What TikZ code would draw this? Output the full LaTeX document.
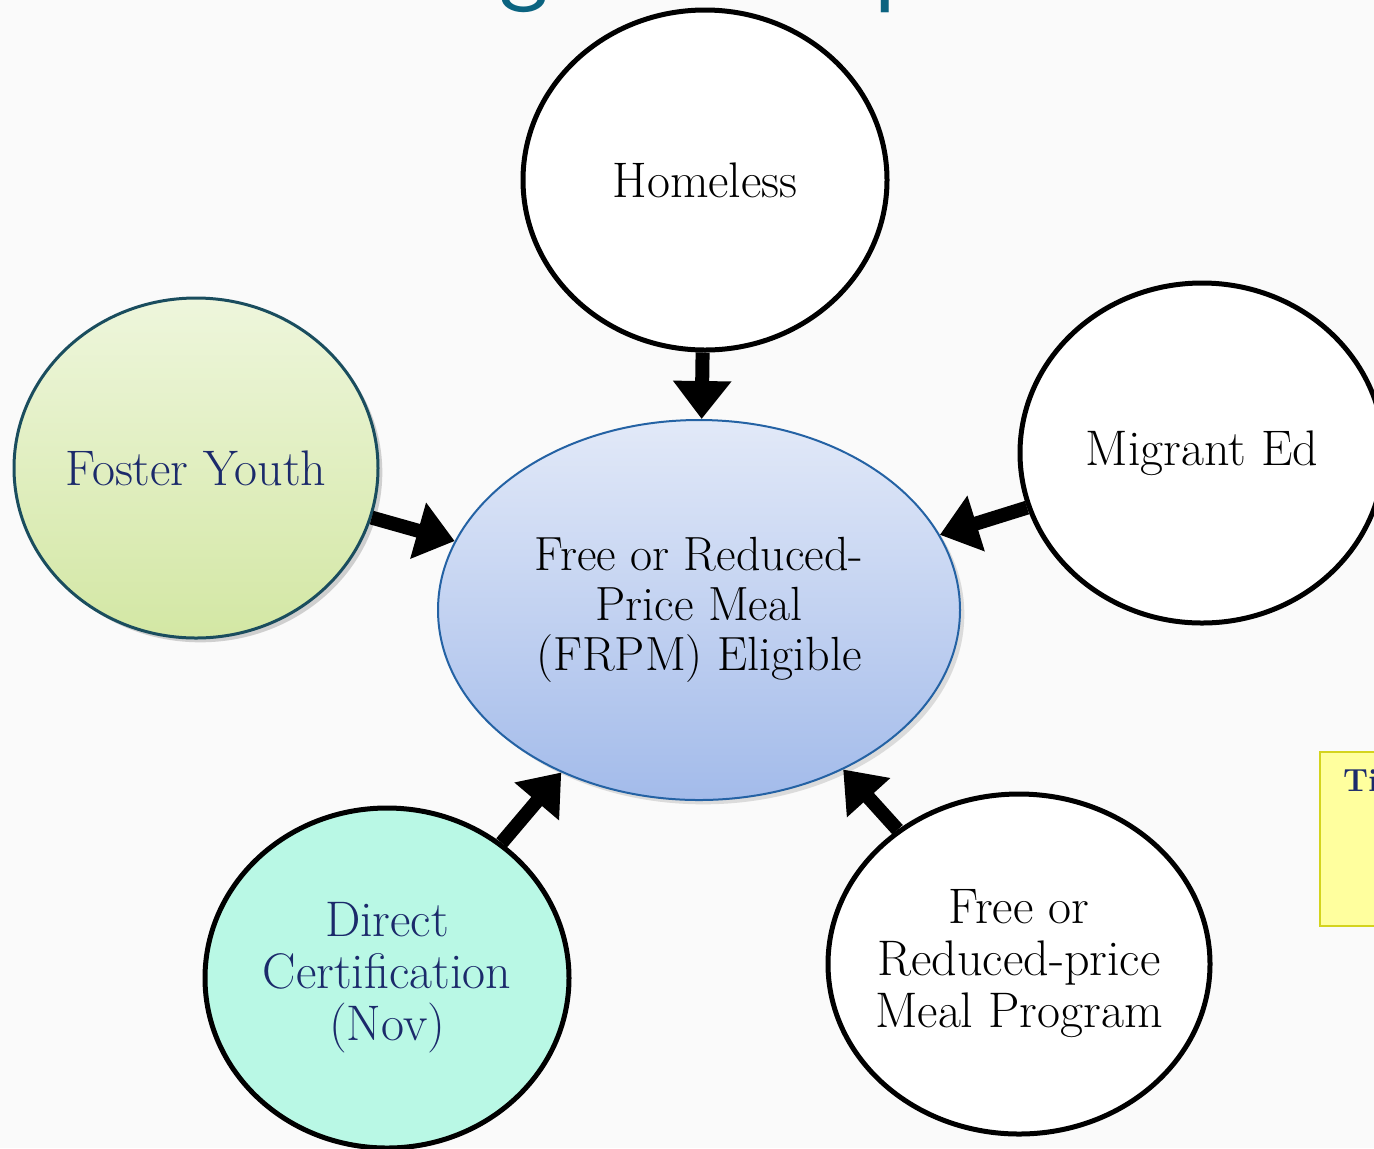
\documentclass[tikz,border=0pt]{standalone}
\usepackage{tikz}
\usetikzlibrary{arrows.meta,shapes.geometric,shadows}
\definecolor{bgpaper}{HTML}{FAFAFA}
\definecolor{navytext}{HTML}{1B2A6B}
\definecolor{titleteal}{HTML}{0B6380}
\definecolor{fosterline}{HTML}{1A4D5E}
\definecolor{fostertop}{HTML}{EEF6DC}
\definecolor{fosterbot}{HTML}{D3E7A4}
\definecolor{frpmtop}{HTML}{E2E9F8}
\definecolor{frpmbot}{HTML}{A3BBEA}
\definecolor{frpmline}{HTML}{2462A4}
\definecolor{directfill}{HTML}{B9F8E5}
\definecolor{tipfill}{HTML}{FFFF9E}
\definecolor{tipline}{HTML}{D4D41E}

\begin{document}
\begin{tikzpicture}[x=0.5pt, y=-0.5pt,
    every node/.style={font=\fontsize{25}{26}\selectfont},
    bubble/.style={ellipse, draw=black, line width=2.5pt, fill=white, align=center,
      minimum width=182pt, minimum height=170pt, inner sep=-12pt},
    feed/.style={line width=7pt, -{Triangle[length=19pt,width=28pt]}}]
        \useasboundingbox (0,0) rectangle (1374,1148);
        \fill[bgpaper] (0,0) rectangle (1374,1148);
        % bits of the title, cut off by the page
        \node[anchor=south, inner sep=0pt, text=titleteal, font=\sffamily\fontsize{52}{52}\selectfont] (titleg) at (524,13) {g};
        \node[anchor=south west, inner sep=0pt, text=titleteal, font=\sffamily\fontsize{52}{52}\selectfont] (titlep) at (873,13) {p};
        % the five groups
        \node[bubble] (home) at (705,180) {Homeless};
        \node[bubble] (migrant) at (1202,453) {Migrant Ed};
        \node[bubble, draw=fosterline, line width=1.5pt, top color=fostertop, bottom color=fosterbot,
          drop shadow={opacity=0.35}, text=navytext] (foster) at (196,468) {Foster Youth};
        \node[bubble, fill=directfill, text=navytext] (direct) at (387,978) {Direct\\Certification\\(Nov)};
        \node[bubble, minimum width=191pt] (program) at (1019,964) {Free or\\Reduced-price\\Meal Program};
        % the middle
        \node[ellipse, draw=frpmline, line width=1pt, top color=frpmtop, bottom color=frpmbot,
          drop shadow={opacity=0.25}, minimum width=261pt, minimum height=190pt, inner sep=0pt,
          align=center, font=\fontsize{24}{25}\selectfont]
          (frpm) at (699,610) {Free or Reduced-\\Price Meal\\(FRPM) Eligible};
        \draw[feed] (home) -- (frpm);
        \draw[feed] (migrant) -- (frpm);
        \draw[feed] (foster) -- (frpm);
        \draw[feed] (direct) -- (frpm);
        \draw[feed] (program) -- (frpm);
        % tip note on the right edge
        \node[draw=tipline, line width=1pt, fill=tipfill, anchor=north west,
          minimum width=60pt, minimum height=87pt] (tipbox) at (1319,751) {};
        \node[anchor=base west, text=navytext, font=\bfseries\fontsize{16}{18}\selectfont] (tiptext) at (1336,791) {Tip};
      \end{tikzpicture}
\end{document}
